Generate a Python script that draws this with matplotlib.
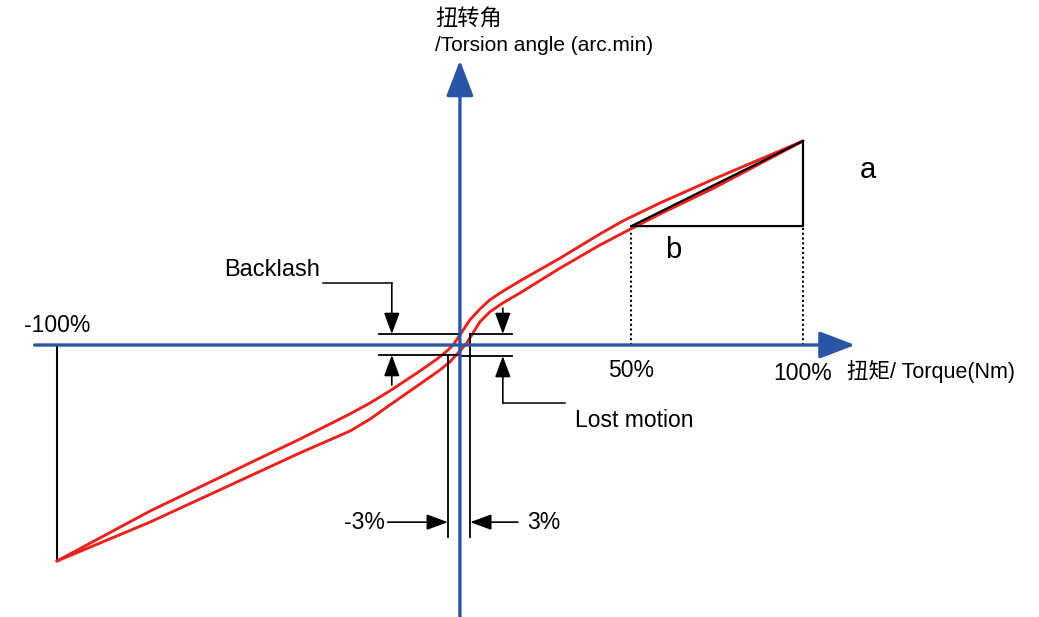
import numpy as np
import matplotlib
matplotlib.use('Agg')
import matplotlib.pyplot as plt

plt.rcParams['font.family'] = ['Liberation Sans', 'Noto Sans CJK SC']

BLUE = '#2a55a5'
RED = '#e8231e'

# hysteresis loop, torque in % of rated, angle in relative units
torque_upper = [-100, -76.9, -52.1, -39.7, -27.3, -22.3, -17.4, -9.9, -5.7, -3.2,
                -1.7, 0, 2.9, 5.8, 8.7, 11.7, 17.5, 29.2, 40.8, 47.5, 58.3,
                74.1, 100]
angle_upper = [-105.9, -81.4, -57.8, -46.1, -33.8, -28.4, -22.5, -12.7, -6.9, -2.9,
               0, 4.9, 12.3, 17.6, 22.1, 25.5, 31.4, 42.6, 54.4, 60.8, 69.6,
               81.4, 100]

torque_lower = [-100, -76.9, -52.1, -39.7, -27.3, -22.3, -17.4, -9.9, -5.0, -2.5,
                0, 2.0, 3.8, 5.8, 8.7, 12.5, 17.5, 29.2, 40.8, 47.5, 58.3,
                74.1, 100]
angle_lower = [-105.9, -86.8, -64.2, -52.9, -42.2, -36.3, -29.4, -19.1, -12.3, -8.3,
               -2.9, 1.0, 5.9, 11.3, 16.2, 20.6, 25.5, 37.7, 49.0, 54.9, 64.2,
               77.0, 100]

# torque marks on the axis
rated = [-100, 50, 100]
rated_labels = ['-100%', '50%', '100%']
rated_angle = [-105.9, 58.3, 100]

lost_torque = [-3, 3]
backlash_top = 5.4
backlash_bottom = -4.9

# negative torque side is drawn a bit wider
NEG_STRETCH = 1.175


def fwd(x):
    x = np.asarray(x, dtype=float)
    return np.where(x < 0, x * NEG_STRETCH, x)


def inv(x):
    x = np.asarray(x, dtype=float)
    return np.where(x < 0, x / NEG_STRETCH, x)


def arrow(ax, start, end, color='k', lw=1.2, hl=0.65, hw=0.24, ms=20):
    ax.annotate('', xy=end, xytext=start,
                arrowprops=dict(arrowstyle=f'-|>,head_length={hl},head_width={hw}',
                                color=color, lw=lw, mutation_scale=ms,
                                shrinkA=0, shrinkB=0))


def main():
    fig = plt.figure(figsize=(10.39, 6.17), dpi=100)
    ax = fig.add_axes([0, 0, 1, 1])
    ax.set_xscale('function', functions=(fwd, inv))
    ax.set_xlim(-114.1, 168.8)
    ax.set_ylim(-133.3, 169.1)
    ax.axis('off')

    # axes with arrow heads
    arrow(ax, (-105.5, 0), (115.2, 0), color=BLUE, lw=2.4, hl=1.1, hw=0.42, ms=20)
    arrow(ax, (0, -134), (0, 139.5), color=BLUE, lw=2.4, hl=1.1, hw=0.42, ms=20)

    ax.text(-100, 9.8, rated_labels[0], fontsize=16.5, ha='center', va='center')
    ax.text(rated[1], -12.3, rated_labels[1], fontsize=16.5, ha='center', va='center')
    ax.text(rated[2], -13.8, rated_labels[2], fontsize=16.5, ha='center', va='center')
    ax.text(112.8, -13, '扭矩/ Torque(Nm)', fontsize=15.5, ha='left', va='center')
    ax.text(-6.2, 159.5, '扭转角', fontsize=16, ha='left', va='center')
    ax.text(-6.2, 147, '/Torsion angle (arc.min)', fontsize=15, ha='left', va='center')

    # stiffness triangle
    ax.plot([rated[1], rated[2], rated[2], rated[1]],
            [rated_angle[1], rated_angle[2], rated_angle[1], rated_angle[1]],
            color='k', lw=1.6, zorder=3)
    for t in rated[1:]:
        ax.plot([t, t], [0, rated_angle[1]], color='k', lw=1.5,
                ls=(0, (1, 1.3)))
    ax.plot([rated[0], rated[0]], [0, rated_angle[0]], color='k', lw=1.5)
    ax.text(118.8, 85.8, 'a', fontsize=21, ha='center', va='center')
    ax.text(62.1, 46.5, 'b', fontsize=21, ha='center', va='center')

    # hysteresis curves
    for t, a in [(torque_upper, angle_upper), (torque_lower, angle_lower)]:
        ax.plot(t, a, color=RED, lw=2.1, zorder=2,
                solid_joinstyle='round', solid_capstyle='round')

    # backlash / lost motion construction
    ax.plot([-20.1, 0], [backlash_top, backlash_top], color='k', lw=1.3)
    ax.plot([-20.1, -0.5], [backlash_bottom, backlash_bottom], color='k', lw=1.3)
    ax.plot([lost_torque[1], 15.2], [backlash_top, backlash_top], color='k', lw=1.3)
    ax.plot([0, 15.2], [backlash_bottom - 0.5, backlash_bottom - 0.5], color='k', lw=1.3)
    ax.plot([lost_torque[0], lost_torque[0]], [backlash_bottom, -94.1], color='k', lw=1.3)
    ax.plot([lost_torque[1], lost_torque[1]], [backlash_top, -94.1], color='k', lw=1.3)

    # Backlash label and arrows
    ax.text(-46.7, 36.8, 'Backlash', fontsize=17, ha='center', va='center')
    ax.plot([-34.0, -16.9], [30.4, 30.4], color='k', lw=1.1)
    arrow(ax, (-16.9, 30.4), (-16.9, backlash_top))
    arrow(ax, (-16.9, -19.6), (-16.9, backlash_bottom))

    # Lost motion label and arrows
    arrow(ax, (12.5, 18.1), (12.5, backlash_top))
    arrow(ax, (12.5, -28.4), (12.5, backlash_bottom - 0.5))
    ax.plot([12.5, 30.6], [-28.4, -28.4], color='k', lw=1.1)
    ax.text(33.5, -36.8, 'Lost motion', fontsize=16.5, ha='left', va='center')

    # +-3% arrows
    arrow(ax, (-17.9, -86.8), (lost_torque[0], -86.8))
    arrow(ax, (16.9, -86.8), (lost_torque[1], -86.8))
    ax.text(-23.6, -86.8, '-3%', fontsize=16.5, ha='center', va='center')
    ax.text(24.5, -86.8, '3%', fontsize=16.5, ha='center', va='center')

    fig.savefig('out.png', dpi=100)


main()
